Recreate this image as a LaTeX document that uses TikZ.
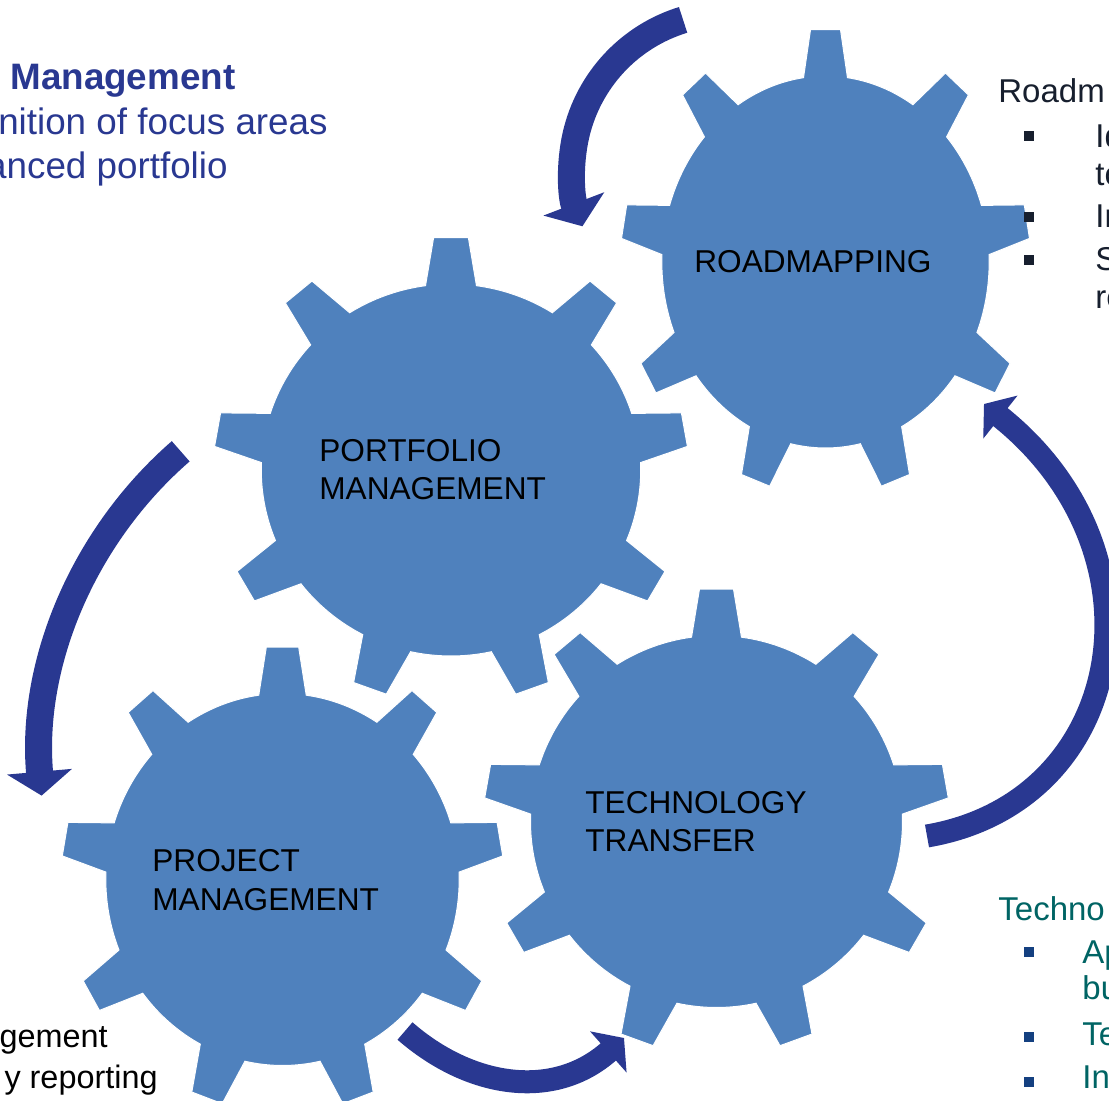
\documentclass[tikz,border=0pt]{standalone}
\usepackage{fontspec}
\setmainfont{Liberation Sans}
\usetikzlibrary{arrows.meta, positioning}
\definecolor{gearblue}{RGB}{79,129,189}
\definecolor{arrowblue}{RGB}{41,56,145}
\definecolor{notedark}{RGB}{23,31,46}
\definecolor{noteteal}{RGB}{0,100,100}
\definecolor{bulletblue}{RGB}{20,64,128}

\begin{document}
\begin{tikzpicture}
        [
            x=0.5pt, y=-0.5pt,
            gear/.style={fill=gearblue, draw=white, line width=0.5pt},
            cogtext/.style={anchor=base west, inner sep=0pt, align=left,
                            font=\fontsize{15.8}{19.2}\selectfont},
            notetext/.style={anchor=base west, inner sep=0pt, align=left,
                             font=\fontsize{16.5}{19}\selectfont, text=notedark},
            bigtext/.style={inner sep=0pt, text=arrowblue,
                            font=\fontsize{18.4}{22}\selectfont},
            plaintext/.style={anchor=base east, inner sep=0pt,
                              font=\fontsize{16.2}{20}\selectfont},
            bullet/.style={rectangle, fill=#1, minimum size=5pt, inner sep=0pt},
            flow/.style={draw=arrowblue, line width=13.5pt,
                         -{Triangle[width=32pt, length=12pt]}},
            flowthin/.style={draw=arrowblue, line width=11.5pt,
                             -{Triangle[width=27pt, length=10.5pt]}}
        ]
        \useasboundingbox (0,0) rectangle (1109,1101);
        \clip (0,0) rectangle (1109,1101);
        % the four cogs
        \foreach \cx/\cy/\sx in {825.5/262/0.88, 451/470/1.02, 716.5/821.5/1, 282.5/879.5/0.95}
            \fill [gear, shift={(\cx,\cy)}, xscale=\sx] (-97.72:186)
                \foreach \a in {-90,-50,...,230} {
                    -- ({\a-7.72}:186) -- ({\a-4.19}:233) -- ({\a+4.19}:233) -- ({\a+7.72}:186)
                    arc [start angle=\a+7.72, end angle=\a+32.28, radius=186]
                } -- cycle;
        \node (road) [cogtext] at (694,272.7) {ROADMAPPING};
        \node (port) [cogtext] at (319,500) {PORTFOLIO\\MANAGEMENT};
        \node (tech) [cogtext] at (585,851.7) {TECHNOLOGY\\TRANSFER};
        \node (proj) [cogtext] at (152,910) {PROJECT\\MANAGEMENT};
        % curved arrows
        \coordinate (r1) at (683.1,19.9);
        \coordinate (r2) at (180.7,451.3);
        \coordinate (r3) at (927,836);
        \coordinate (r3e) at (984,404);
        \coordinate (r4) at (405,1031);
        \coordinate (r4e) at (624,1038);
        \draw [flow] (r1) arc [start angle=-107, end angle=-201, radius=157];
        \draw [flow] (r2) arc [start angle=-131, end angle=-185, radius=409];
        \draw [flowthin] (r3) .. controls (1127,802) and (1171,553) .. (r3e);
        \draw [flowthin] (r4) .. controls (469,1087) and (553,1101) .. (r4e);
        % side notes
        \node (pmhead) [bigtext, anchor=base west, font=\fontsize{18.4}{22}\selectfont\bfseries]
            at (10,90) {Management};
        \node (pmone) [bigtext, anchor=base east] at (328,135) {nition of focus areas};
        \node (pmtwo) [bigtext, anchor=base east] at (228,179) {anced portfolio};
        \node (rmhead) [notetext] at (998,103) {Roadm};
        \node (rb1) [bullet=notedark] at (1029,136) {};
        \node (rb2) [bullet=notedark] at (1029,217) {};
        \node (rb3) [bullet=notedark] at (1029,260) {};
        \node (rm1) [notetext] at (1095,186) {Id\\to};
        \node (rm2) [notetext] at (1095,228) {In};
        \node (rm3) [notetext] at (1095,309) {S\\re};
        \node (tthead) [notetext, text=noteteal] at (998,920) {Techno};
        \node (tb1) [bullet=bulletblue] at (1029,952) {};
        \node (tb2) [bullet=bulletblue] at (1029,1037) {};
        \node (tb3) [bullet=bulletblue] at (1029,1082) {};
        \node (tt1) [notetext, text=noteteal, font=\fontsize{16.5}{18}\selectfont]
            at (1082,999) {Ap\\bu};
        \node (tt2) [notetext, text=noteteal] at (1082,1045) {Te};
        \node (tt3) [notetext, text=noteteal] at (1082,1088) {In};
        \node (pjone) [plaintext] at (108,1047) {gement};
        \node (pjtwo) [plaintext] at (158,1088) {y reporting};
    \end{tikzpicture}
\end{document}
